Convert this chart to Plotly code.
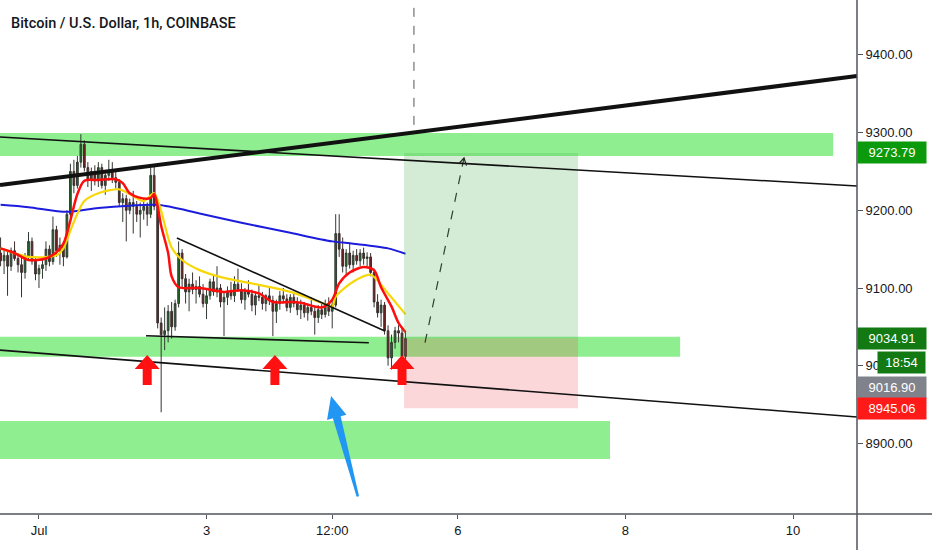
import pandas as pd
import plotly.graph_objects as go

# hourly BTCUSD candles
times = pd.date_range("2020-06-30 13:00", periods=117, freq="h")

opens = [9145, 9135, 9142, 9128, 9148, 9138, 9130, 9120, 9140, 9160,
         9135, 9118, 9125, 9130, 9150, 9134, 9175, 9148, 9155, 9140,
         9195, 9250, 9232, 9262, 9285, 9255, 9240, 9250, 9238, 9255,
         9232, 9245, 9250, 9242, 9236, 9210, 9215, 9200, 9210, 9205,
         9195, 9200, 9205, 9195, 9245, 9205, 9055, 9040, 9045, 9070,
         9050, 9080, 9145, 9112, 9095, 9105, 9098, 9102, 9092, 9080,
         9090, 9108, 9095, 9100, 9082, 9088, 9095, 9090, 9105, 9098,
         9085, 9095, 9092, 9078, 9090, 9088, 9080, 9090, 9084, 9070,
         9080, 9090, 9086, 9075, 9088, 9080, 9072, 9078, 9068, 9075,
         9070, 9062, 9072, 9066, 9080, 9070, 9078, 9170, 9150, 9128,
         9145, 9130, 9142, 9135, 9145, 9138, 9140, 9120, 9082, 9068,
         9078, 9045, 9010, 9030, 9045, 9042, 9012]
highs = [9165, 9150, 9148, 9152, 9160, 9145, 9140, 9145, 9172, 9165,
         9140, 9130, 9138, 9160, 9155, 9192, 9180, 9165, 9160, 9200,
         9260, 9265, 9270, 9298, 9290, 9262, 9255, 9258, 9262, 9260,
         9248, 9265, 9262, 9252, 9240, 9222, 9220, 9215, 9225, 9212,
         9210, 9215, 9210, 9255, 9258, 9210, 9062, 9075, 9078, 9082,
         9085, 9160, 9150, 9118, 9112, 9120, 9110, 9115, 9105, 9098,
         9112, 9118, 9128, 9105, 9095, 9102, 9108, 9115, 9125, 9106,
         9100, 9110, 9098, 9095, 9104, 9095, 9092, 9100, 9090, 9085,
         9096, 9100, 9092, 9092, 9095, 9088, 9085, 9082, 9080, 9088,
         9076, 9078, 9080, 9085, 9088, 9085, 9195, 9195, 9165, 9150,
         9158, 9148, 9150, 9150, 9152, 9146, 9145, 9125, 9092, 9085,
         9082, 9052, 9040, 9050, 9052, 9050, 9045]
lows = [9128, 9118, 9090, 9122, 9135, 9120, 9088, 9112, 9135, 9130,
        9110, 9100, 9112, 9122, 9128, 9130, 9140, 9130, 9128, 9138,
        9190, 9222, 9228, 9255, 9250, 9230, 9225, 9232, 9230, 9228,
        9220, 9238, 9235, 9228, 9205, 9185, 9160, 9195, 9170, 9185,
        9165, 9188, 9180, 9190, 9200, 9048, 8940, 9020, 9030, 9035,
        9045, 9075, 9100, 9080, 9070, 9092, 9080, 9088, 9075, 9060,
        9085, 9090, 9088, 9075, 9038, 9078, 9085, 9082, 9095, 9080,
        9072, 9088, 9070, 9065, 9083, 9072, 9070, 9078, 9038, 9055,
        9072, 9080, 9070, 9068, 9075, 9065, 9060, 9062, 9058, 9065,
        9040, 9055, 9060, 9062, 9064, 9048, 9075, 9140, 9120, 9118,
        9125, 9120, 9130, 9128, 9130, 9128, 9115, 9075, 9062, 9050,
        9040, 9000, 8995, 9022, 9030, 9005, 9008]
closes = [9135, 9142, 9128, 9148, 9138, 9130, 9120, 9140, 9160, 9135,
          9118, 9125, 9130, 9150, 9134, 9175, 9148, 9155, 9140, 9195,
          9250, 9232, 9262, 9285, 9255, 9240, 9250, 9238, 9255, 9232,
          9245, 9250, 9242, 9236, 9210, 9215, 9200, 9210, 9205, 9195,
          9200, 9205, 9195, 9245, 9205, 9055, 9040, 9045, 9070, 9050,
          9080, 9145, 9112, 9095, 9105, 9098, 9102, 9092, 9080, 9090,
          9108, 9095, 9100, 9082, 9088, 9095, 9090, 9105, 9098, 9085,
          9095, 9092, 9078, 9090, 9088, 9080, 9090, 9084, 9070, 9080,
          9090, 9086, 9075, 9088, 9080, 9072, 9078, 9068, 9075, 9070,
          9062, 9072, 9066, 9080, 9070, 9078, 9170, 9150, 9128, 9145,
          9130, 9142, 9135, 9145, 9138, 9140, 9120, 9082, 9068, 9078,
          9045, 9010, 9030, 9045, 9042, 9012, 9035]

# moving averages, sampled at candle indices
fast_idx = [0, 4, 8, 13, 16, 18, 20, 22, 24, 28, 33, 35, 37, 40, 43, 44, 45, 46, 48, 49,
            51, 57, 64, 69, 74, 78, 83, 86, 92, 95, 97, 100, 104, 107, 109, 112, 114, 116]
fast_val = [9151, 9145, 9136, 9138, 9146, 9157, 9187, 9221, 9238, 9239, 9240, 9235, 9222,
            9216, 9216, 9221, 9205, 9180, 9145, 9115, 9101, 9100, 9095, 9097, 9093, 9082,
            9082, 9081, 9075, 9085, 9106, 9120, 9127, 9123, 9101, 9076, 9055, 9043]
mid_idx = [0, 8, 16, 18, 20, 24, 28, 34, 37, 41, 44, 46, 49, 52, 57, 64, 74, 83, 92, 95,
           96, 101, 106, 111, 116]
mid_val = [9151, 9140, 9142, 9151, 9174, 9212, 9222, 9227, 9221, 9212, 9222, 9199, 9152,
           9136, 9123, 9113, 9104, 9095, 9081, 9076, 9089, 9108, 9117, 9093, 9066]
slow_idx = [0, 8, 19, 28, 37, 45, 57, 69, 83, 95, 101, 111, 116]
slow_val = [9207, 9204, 9198, 9203, 9206, 9207, 9196, 9184, 9171, 9160, 9157, 9151, 9144]

# drawings (time, price)
trend_up = [("2020-06-30 12:50", 9232.6), ("2020-07-10 18:20", 9372.8)]
trend_down_top = [("2020-06-30 12:50", 9294.3), ("2020-07-10 18:20", 9231.3)]
trend_down_low = [("2020-06-30 12:50", 9020.0), ("2020-07-10 18:20", 8934.0)]
wedge_top = [("2020-07-02 15:30", 9164.4), ("2020-07-05 03:05", 9044.7)]
wedge_low = [("2020-07-02 06:40", 9038.6), ("2020-07-04 22:30", 9029.6)]
zones = [("2020-07-10 11:30", 9299.5, 9269.9),
         ("2020-07-08 15:40", 9037.3, 9011.6),
         ("2020-07-07 19:35", 8928.8, 8879.9)]
pos_t0, pos_t1 = "2020-07-05 08:35", "2020-07-07 10:25"
entry, target, stop = 9034.91, 9273.79, 8945.06
path_arrow = [("2020-07-05 14:35", 9029.6), ("2020-07-06 01:45", 9267.3)]
red_arrows = ["2020-07-02 07:00", "2020-07-03 19:35", "2020-07-05 08:00"]
red_arrow_price = 9013.8
blue_arrow = ("2020-07-04 11:40", 8961.0)
now_time = "2020-07-05 11:25"

x_range = ["2020-06-30 12:50", "2020-07-10 18:20"]
y_range = [8809.1, 9470.7]
x_tickvals = ["2020-07-01", "2020-07-03", "2020-07-04 12:00", "2020-07-06", "2020-07-08", "2020-07-10"]
x_ticktext = ["Jul", "3", "12:00", "6", "8", "10"]

fig = go.Figure()

fig.add_trace(go.Candlestick(
    x=times, open=opens, high=highs, low=lows, close=closes,
    increasing=dict(line=dict(color="#333a33", width=1), fillcolor="#1f6b25"),
    decreasing=dict(line=dict(color="#3a3030", width=1), fillcolor="#7a1d1d"),
    whiskerwidth=0, showlegend=False, hoverinfo="skip",
))

for idx, val, color, w in [(slow_idx, slow_val, "#1c1cdc", 2),
                           (mid_idx, mid_val, "#f7d708", 2.2),
                           (fast_idx, fast_val, "#ff0d0d", 2.5)]:
    fig.add_trace(go.Scatter(
        x=times[idx], y=val, mode="lines",
        line=dict(color=color, width=w, shape="spline", smoothing=0.8),
        showlegend=False, hoverinfo="skip",
    ))

# dashed projection line
fig.add_trace(go.Scatter(
    x=[p[0] for p in path_arrow], y=[p[1] for p in path_arrow],
    mode="lines", line=dict(color="#222222", width=1.2, dash="dash"),
    showlegend=False, hoverinfo="skip",
))

shapes = []
for t_end, p_top, p_bot in zones:
    shapes.append(dict(type="rect", xref="x", yref="y", x0=x_range[0], x1=t_end,
                       y0=p_bot, y1=p_top, fillcolor="#8fee8f", line_width=0, layer="below"))

# long position tool
shapes.append(dict(type="rect", xref="x", yref="y", x0=pos_t0, x1=pos_t1, y0=entry, y1=target,
                   fillcolor="rgba(76,175,80,0.24)", line_width=0))
shapes.append(dict(type="rect", xref="x", yref="y", x0=pos_t0, x1=pos_t1, y0=stop, y1=entry,
                   fillcolor="rgba(242,54,69,0.2)", line_width=0))

for seg, w in [(trend_up, 4), (trend_down_top, 1.6), (trend_down_low, 1.6),
               (wedge_top, 1.6), (wedge_low, 1.6)]:
    shapes.append(dict(type="line", xref="x", yref="y", x0=seg[0][0], y0=seg[0][1],
                       x1=seg[1][0], y1=seg[1][1], line=dict(color="#111111", width=w)))

shapes.append(dict(type="line", xref="x", yref="y", x0=now_time, x1=now_time,
                   y0=9310, y1=y_range[1], line=dict(color="#555555", width=1, dash="dash")))

# chevron head of the dashed projection
shapes.append(dict(type="path", xref="x", yref="y", xsizemode="pixel", ysizemode="pixel",
                   xanchor=path_arrow[1][0], yanchor=path_arrow[1][1],
                   path="M2.5,-7.6 L0,0 L-5.4,-5.9", line=dict(color="#222222", width=1.2)))

# red up arrows (pixel outline anchored at the tip)
red_outline = "M0,0 L12.5,-14 L4.5,-14 L4.5,-30 L-4.5,-30 L-4.5,-14 L-12.5,-14 Z"
for t in red_arrows:
    shapes.append(dict(type="path", xref="x", yref="y", xsizemode="pixel", ysizemode="pixel",
                       xanchor=t, yanchor=red_arrow_price, path=red_outline,
                       fillcolor="#ff1111", line_width=0))

blue_outline = ("M0,0 L15.4,-18.7 L9.6,-20.3 L28.0,-100.2 L25.6,-100.8 "
                "L1.8,-22.3 L-4.0,-23.9 Z")
shapes.append(dict(type="path", xref="x", yref="y", xsizemode="pixel", ysizemode="pixel",
                   xanchor=blue_arrow[0], yanchor=blue_arrow[1], path=blue_outline,
                   fillcolor="#2196f3", line_width=0))

# axis frame lines running into the margins
shapes.append(dict(type="line", xref="paper", yref="paper", x0=1, x1=1, y0=-0.08, y1=1,
                   line=dict(color="#50535e", width=1.5)))
shapes.append(dict(type="line", xref="paper", yref="paper", x0=0, x1=1.09, y0=0, y1=0,
                   line=dict(color="#50535e", width=1.5)))

annotations = [dict(
    text="Bitcoin / U.S. Dollar, 1h, COINBASE", xref="paper", yref="paper",
    x=0, y=1, xanchor="left", yanchor="top", xshift=9, yshift=-13, showarrow=False,
    font=dict(family="Roboto", size=14.5, color="#131722", weight=500),
)]

labels = [("9273.79", target, "#0b9a0b", 0, 64),
          ("9034.91", entry, "#137a13", 0, 64),
          ("18:54", 9004.0, "#137a13", 20, 43),
          ("9016.90", 8972.5, "#80838c", 0, 64),
          ("8945.06", stop, "#ff1a1a", 0, 64)]
for txt, price, bg, dx, w in labels:
    annotations.append(dict(
        text=txt, xref="paper", yref="y", x=1, y=price, xanchor="left", yanchor="middle",
        xshift=dx, showarrow=False, bgcolor=bg, width=w, height=17, borderpad=2,
        font=dict(family="Liberation Sans", size=13, color="white"),
    ))

fig.update_layout(
    width=932, height=550,
    margin=dict(l=0, r=75, t=0, b=36, autoexpand=False),
    paper_bgcolor="white", plot_bgcolor="white",
    shapes=shapes, annotations=annotations,
    showlegend=False,
    font=dict(family="Liberation Sans", size=13, color="#131722"),
)
fig.update_xaxes(
    range=x_range, rangeslider_visible=False, showgrid=False, zeroline=False,
    tickvals=x_tickvals, ticktext=x_ticktext,
    ticks="outside", ticklen=4, tickcolor="#50535e", showline=False,
)
fig.update_yaxes(
    range=y_range, side="right", showgrid=False, zeroline=False,
    tickvals=[8900, 9000, 9100, 9200, 9300, 9400], tickformat=".2f",
    ticks="outside", ticklen=5, tickcolor="#50535e", showline=False,
)

# the page body has an 8px default margin; drop it so the figure fills the window
fig.write_html("out.html", config={"displayModeBar": False},
               post_script="document.body.style.margin = '0';")
